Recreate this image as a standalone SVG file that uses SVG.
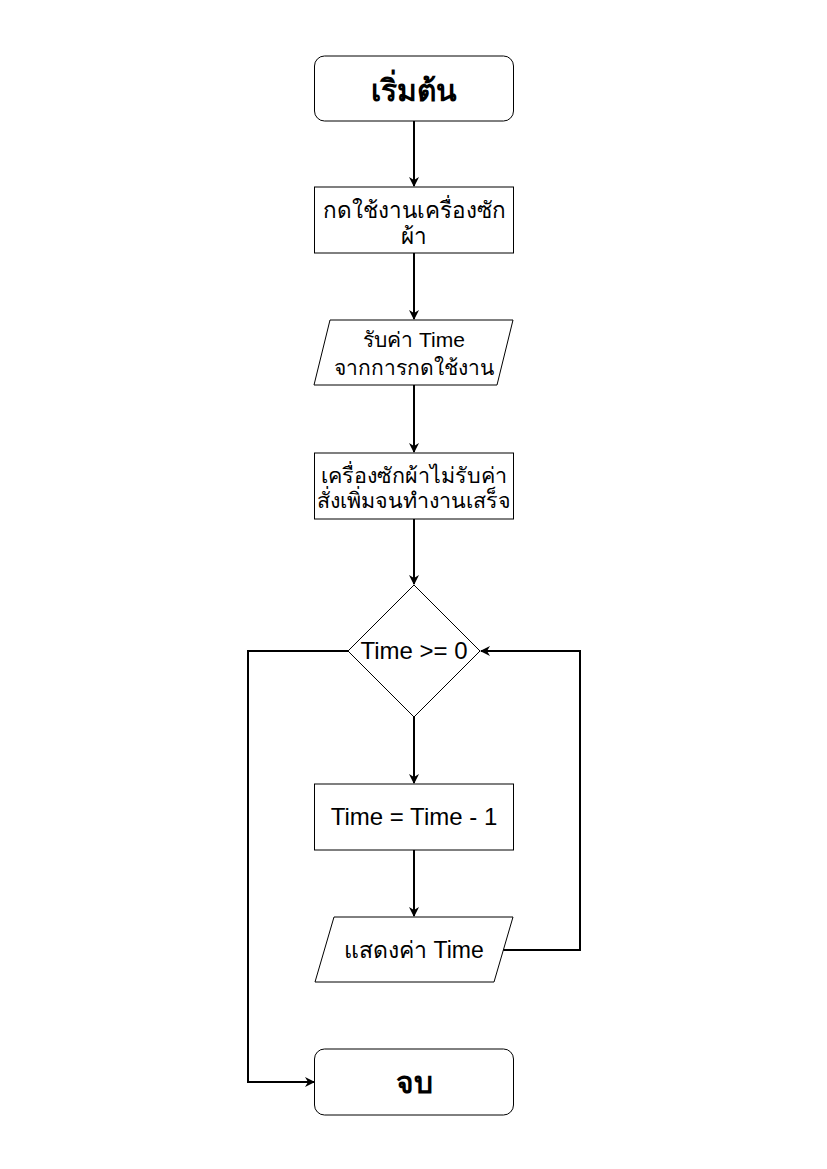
<svg xmlns="http://www.w3.org/2000/svg" width="827" height="1169" viewBox="0 0 827 1169">
<defs>
<marker id="arr" viewBox="0 0 10 10" refX="9" refY="5" markerWidth="10" markerHeight="10" markerUnits="userSpaceOnUse" orient="auto">
<path d="M0,0 L10,5 L0,10 L3,5 Z" fill="#000"/>
</marker>
<style>
.shape{fill:#fff;stroke:#000;stroke-width:1}
.edge{fill:none;stroke:#000;stroke-width:2;marker-end:url(#arr)}
text{font-family:"Liberation Sans","Noto Sans","DejaVu Sans",sans-serif;fill:#000;text-anchor:middle}
.t24{font-size:24px}
.big{font-size:30px;font-weight:bold}
</style>
</defs>
<rect width="827" height="1169" fill="#fff"/>
<g id="connectors">
<line class="edge" x1="414" y1="121" x2="414" y2="186"/>
<line class="edge" x1="414" y1="253" x2="414" y2="319"/>
<line class="edge" x1="414" y1="385" x2="414" y2="452"/>
<line class="edge" x1="414" y1="519" x2="414" y2="584"/>
<line class="edge" x1="414" y1="717" x2="414" y2="783"/>
<line class="edge" x1="414" y1="850" x2="414" y2="916"/>
<polyline class="edge" points="503,950 580,950 580,651 481,651"/>
<polyline class="edge" points="348,651 248,651 248,1082 314,1082"/>
</g>
<g id="start">
<rect class="shape" x="314.5" y="56" width="199" height="65" rx="10"/>
<text class="big" x="414" y="101">เริ่มต้น</text>
</g>
<g id="press">
<rect class="shape" x="314.5" y="187" width="199" height="66"/>
<text x="414" y="218" style="font-size:22.5px">กดใช้งานเครื่องซัก</text>
<text x="414" y="244" style="font-size:22.5px">ผ้า</text>
</g>
<g id="input">
<polygon class="shape" points="330,320 513,320 497,385 314,385"/>
<text x="414" y="347" style="font-size:21px">รับค่า Time</text>
<text x="414" y="375" style="font-size:21px">จากการกดใช้งาน</text>
</g>
<g id="lock">
<rect class="shape" x="314.5" y="453" width="199" height="66"/>
<text x="414" y="483" style="font-size:21.5px">เครื่องซักผ้าไม่รับค่า</text>
<text x="414" y="508" style="font-size:21.5px">สั่งเพิ่มจนทำงานเสร็จ</text>
</g>
<g id="decision">
<polygon class="shape" points="414,585 480,651 414,717 348,651"/>
<text class="t24" x="414" y="659">Time &gt;= 0</text>
</g>
<g id="decrement">
<rect class="shape" x="314.5" y="784" width="199" height="66"/>
<text class="t24" x="414" y="825">Time = Time - 1</text>
</g>
<g id="output">
<polygon class="shape" points="334,917 513,917 494,982 315,982"/>
<text x="414" y="958" style="font-size:23px">แสดงค่า Time</text>
</g>
<g id="end">
<rect class="shape" x="314.5" y="1049" width="199" height="66" rx="10"/>
<text class="big" x="414" y="1093">จบ</text>
</g>
</svg>
